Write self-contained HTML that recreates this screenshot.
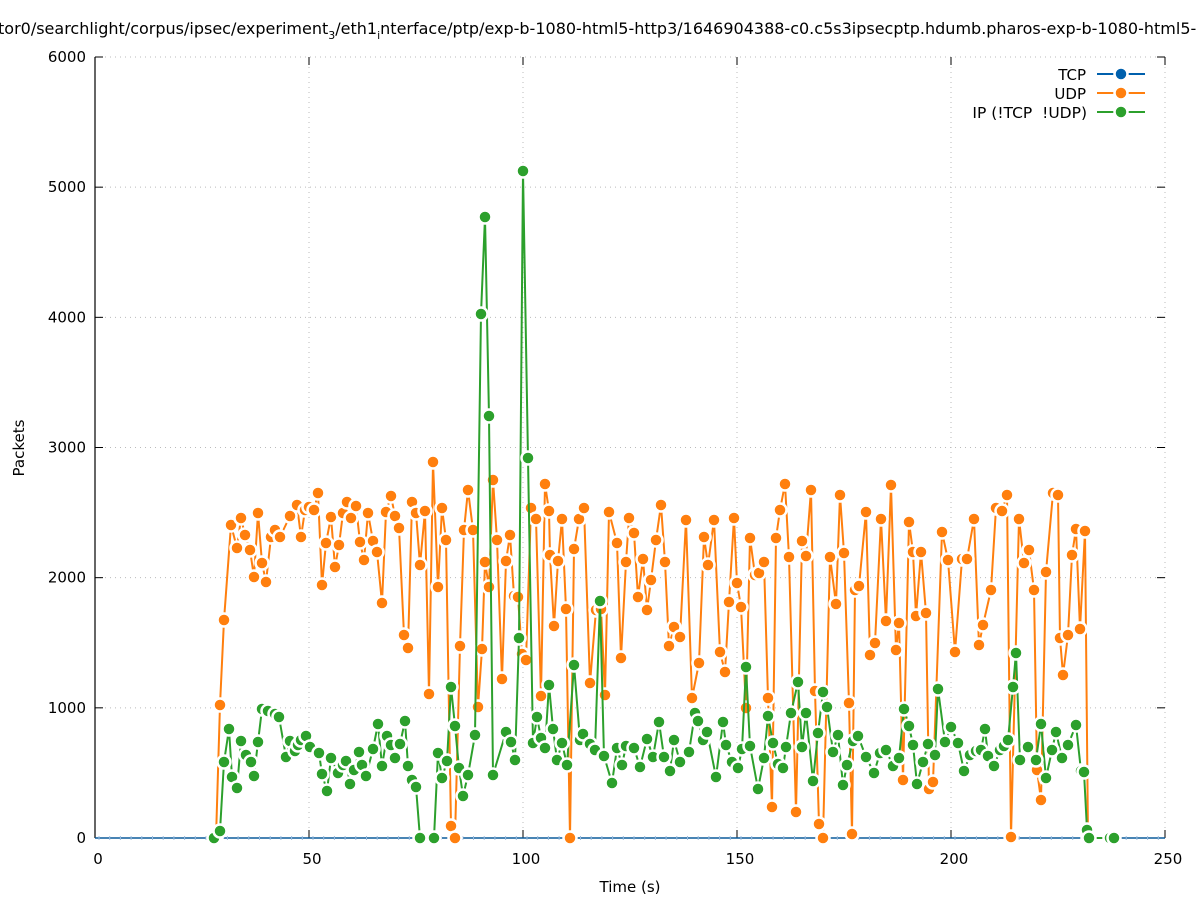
<!DOCTYPE html>
<html><head><meta charset="utf-8"><style>
body{margin:0;background:#fff;width:1197px;height:900px;overflow:hidden}
svg{display:block;font-family:"DejaVu Sans","Liberation Sans",sans-serif}
</style></head><body>
<svg id="s" width="1197" height="900" viewBox="0 0 1197 900">
<rect width="1197" height="900" fill="#fff"/>
<text x="-2" y="34" font-size="16" fill="#000">tor0/searchlight/corpus/ipsec/experiment<tspan font-size="11" dy="5">3</tspan><tspan dy="-5">/eth1</tspan><tspan font-size="11" dy="5">i</tspan><tspan dy="-5">nterface/ptp/exp-b-1080-html5-http3/1646904388-c0.c5s3ipsecptp.hdumb.pharos-exp-b-1080-html5-http3</tspan></text>
<g id="grid" stroke="#bbb" stroke-width="1" stroke-dasharray="1,4"></g>
<g id="axes"></g>
<g id="plot"></g>
<g font-size="15" fill="#000" style="white-space:pre">
<text x="1086" y="80" text-anchor="end">TCP</text>
<text x="1086" y="99" text-anchor="end">UDP</text>
<text x="1087" y="118" text-anchor="end" xml:space="preserve" font-size="15.5">IP (!TCP  !UDP)</text>
</g>
<g stroke-width="2">
<line x1="1097" y1="74" x2="1145" y2="74" stroke="#0060ad"/><circle cx="1121" cy="74" r="6.5" fill="#0060ad" stroke="#fff" stroke-width="2.5"/>
<line x1="1097" y1="93" x2="1145" y2="93" stroke="#ff7f0e"/><circle cx="1121" cy="93" r="6.5" fill="#ff7f0e" stroke="#fff" stroke-width="2.5"/>
<line x1="1097" y1="112" x2="1145" y2="112" stroke="#2ca02c"/><circle cx="1121" cy="112" r="6.5" fill="#2ca02c" stroke="#fff" stroke-width="2.5"/>
</g>
<text x="24" y="448" font-size="15" transform="rotate(-90 24 448)" text-anchor="middle">Packets</text>
<text x="630" y="892" font-size="15" text-anchor="middle">Time (s)</text>
</svg>
<script>
var NS="http://www.w3.org/2000/svg";
function el(p,t,a){var e=document.createElementNS(NS,t);for(var k in a)e.setAttribute(k,a[k]);p.appendChild(e);return e;}
var g=document.getElementById('grid'),ax=document.getElementById('axes'),pl=document.getElementById('plot');
var X0=95,X1=1165,Y0=838,Y1=57;
for(var i=1;i<=6;i++){var y=Y0-(Y0-Y1)*i/6;el(g,'line',{x1:X0,y1:y,x2:X1,y2:y});}
for(var i=1;i<=5;i++){var x=X0+(X1-X0)*i/5;el(g,'line',{x1:x,y1:Y1,x2:x,y2:Y0});}
el(ax,'line',{x1:X0,y1:Y1,x2:X0,y2:Y0,stroke:'#000','stroke-width':1.2});
el(ax,'line',{x1:X0,y1:Y0,x2:X1,y2:Y0,stroke:'#000','stroke-width':1.2});
for(var i=0;i<=6;i++){var y=Y0-(Y0-Y1)*i/6;el(ax,'line',{x1:X0,y1:y,x2:X0+8,y2:y,stroke:'#000'});el(ax,'line',{x1:X1,y1:y,x2:X1-8,y2:y,stroke:'#000'});
var t=el(ax,'text',{x:86,y:y+5,'font-size':15,'text-anchor':'end'});t.textContent=1000*i;}
for(var i=0;i<=5;i++){var x=X0+(X1-X0)*i/5;el(ax,'line',{x1:x,y1:Y0,x2:x,y2:Y0-8,stroke:'#000'});el(ax,'line',{x1:x,y1:Y1,x2:x,y2:Y1+8,stroke:'#000'});
var t=el(ax,'text',{x:x+3,y:864,'font-size':15,'text-anchor':'middle'});t.textContent=50*i;}
var O=[[216,838],[220,705],[224,620],[231,525],[237,548],[241,518],[245,535],[250,550],[254,577],[258,513],[262,563],[266,582],[271,537],[275,530],[280,537],[290,516],[297,505],[301,537],[305,510],[309,507],[314,510],[318,493],[322,585],[326,543],[331,517],[335,567],[339,545],[343,513],[347,502],[351,518],[356,506],[360,542],[364,560],[368,513],[373,541],[377,552],[382,603],[386,512],[391,496],[395,516],[399,528],[404,635],[408,648],[412,502],[416,513],[420,565],[425,511],[429,694],[433,462],[438,587],[442,508],[446,540],[451,826],[455,838],[460,646],[464,530],[468,490],[473,530],[478,707],[482,649],[485,562],[489,587],[493,480],[497,540],[502,679],[506,561],[510,535],[514,596],[518,597],[522,654],[526,660],[531,508],[536,519],[541,696],[545,484],[549,511],[550,555],[554,626],[558,561],[562,519],[566,609],[570,838],[574,549],[579,519],[584,508],[590,683],[596,610],[601,609],[605,695],[609,512],[617,543],[621,658],[626,562],[629,518],[634,533],[638,597],[643,559],[647,610],[651,580],[656,540],[661,505],[665,562],[669,646],[674,627],[680,637],[686,520],[692,698],[699,663],[704,537],[708,565],[714,520],[720,652],[725,672],[729,602],[734,518],[737,583],[741,607],[746,708],[750,538],[755,575],[759,573],[764,562],[768,698],[772,807],[776,538],[780,510],[785,484],[789,557],[796,812],[802,541],[806,556],[811,490],[815,691],[819,824],[823,838],[830,557],[836,604],[840,495],[844,553],[849,703],[852,834],[855,590],[859,586],[866,512],[870,655],[875,643],[881,519],[886,621],[891,485],[896,650],[899,623],[903,780],[909,522],[913,552],[916,616],[921,552],[926,613],[929,789],[933,782],[942,532],[948,560],[955,652],[962,559],[967,559],[974,519],[979,645],[983,625],[991,590],[996,508],[1002,511],[1007,495],[1011,837],[1019,519],[1024,563],[1029,550],[1034,590],[1037,770],[1041,800],[1046,572],[1053,493],[1058,495],[1060,638],[1063,675],[1068,635],[1072,555],[1076,529],[1080,629],[1085,531],[1088,838]];
var G=[[214,838],[220,831],[224,762],[229,729],[232,777],[237,788],[241,741],[246,755],[251,762],[254,776],[258,742],[262,709],[268,711],[275,714],[279,717],[286,757],[290,741],[295,751],[298,745],[301,740],[306,736],[310,747],[319,753],[322,774],[327,791],[331,758],[338,773],[343,765],[346,761],[350,784],[354,770],[359,752],[362,765],[366,776],[373,749],[378,724],[382,766],[387,736],[391,745],[395,758],[400,744],[405,721],[408,766],[412,780],[416,787],[420,838],[434,838],[438,753],[442,778],[447,761],[451,687],[455,726],[459,768],[463,796],[468,775],[475,735],[481,314],[485,217],[489,416],[493,775],[506,732],[511,742],[515,760],[519,638],[523,171],[528,458],[533,743],[537,717],[541,738],[545,748],[549,685],[553,729],[557,760],[562,743],[567,765],[574,665],[580,740],[583,734],[590,744],[595,750],[600,601],[604,756],[612,783],[617,748],[622,765],[626,746],[634,748],[640,767],[647,739],[653,757],[659,722],[664,757],[670,771],[674,740],[680,762],[689,752],[695,713],[698,721],[703,740],[707,732],[716,777],[723,722],[726,745],[732,762],[738,768],[742,749],[746,667],[750,746],[758,789],[764,758],[768,716],[773,743],[778,764],[783,768],[786,747],[791,713],[798,682],[802,747],[806,713],[813,781],[818,733],[823,692],[827,707],[833,752],[838,735],[843,785],[847,765],[853,741],[858,736],[866,757],[874,773],[880,753],[886,750],[893,766],[899,758],[904,709],[909,726],[913,745],[917,784],[923,762],[928,744],[935,755],[938,689],[945,742],[951,727],[958,743],[964,771],[970,755],[976,751],[981,750],[985,729],[988,756],[994,766],[1000,750],[1004,746],[1008,740],[1013,687],[1016,653],[1020,760],[1028,747],[1036,760],[1041,724],[1046,778],[1052,750],[1056,732],[1062,758],[1068,745],[1076,725],[1081,771],[1084,772],[1087,830],[1089,838],[1110,838],[1114,838]];
el(pl,'line',{x1:X0,y1:Y0,x2:X1,y2:Y0,stroke:'#0060ad','stroke-width':1.2});
for(var x=X0+4;x<X1;x+=10.7){el(pl,'line',{x1:x,y1:Y0-2,x2:x,y2:Y0+2,stroke:'#9bbde0','stroke-width':1});}
function series(d,c){
el(pl,'polyline',{points:d.map(function(p){return p.join(',')}).join(' '),fill:'none',stroke:c,'stroke-width':2,'stroke-linejoin':'round'});
d.forEach(function(p){el(pl,'circle',{cx:p[0],cy:p[1],r:6.5,fill:c,stroke:'#fff','stroke-width':2.5});});
}
series(O,'#ff7f0e');series(G,'#2ca02c');
</script>
</body></html>
